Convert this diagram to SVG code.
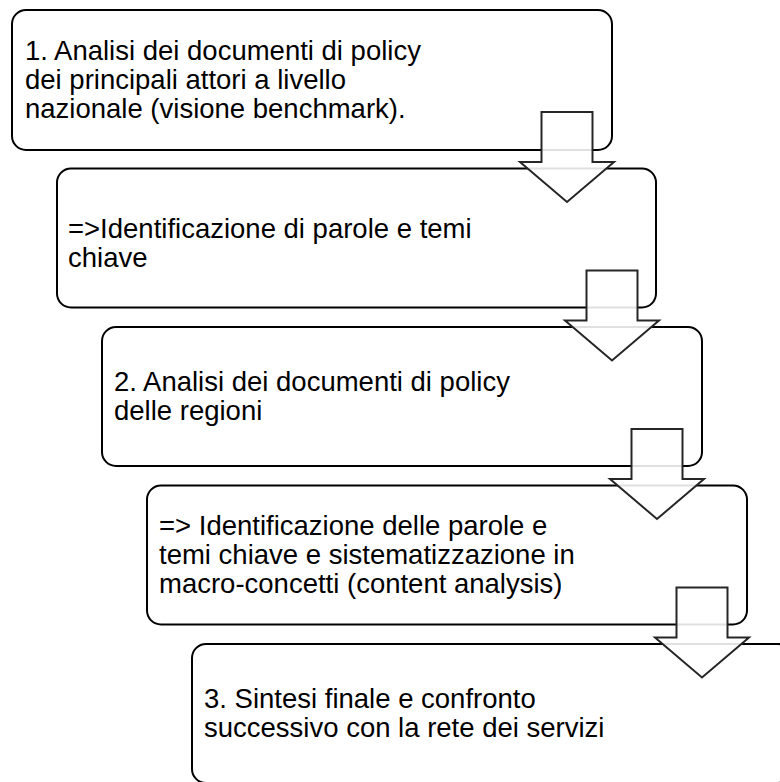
<svg xmlns="http://www.w3.org/2000/svg" width="780" height="782" viewBox="0 0 780 782">
<style>
.box{fill:#fff;stroke:#000;stroke-width:2}
.arr{fill:#fff;fill-opacity:0.88;stroke:#262626;stroke-width:2;stroke-linejoin:miter}
text{font-family:"Liberation Sans",Arial,sans-serif;font-size:27.5px;fill:#000}
</style>
<rect width="780" height="782" fill="#fff"/>
<g id="node1">
<rect class="box" x="12" y="10" width="600" height="140" rx="14"/>
<text x="25" y="60">1. Analisi dei documenti di policy</text>
<text x="25" y="89">dei principali attori a livello</text>
<text x="25" y="118">nazionale (visione benchmark).</text>
</g>
<g id="node2">
<rect class="box" x="57" y="168.5" width="599" height="139" rx="14"/>
<text x="68" y="238">=&gt;Identificazione di parole e temi</text>
<text x="68" y="266.5">chiave</text>
</g>
<g id="node3">
<rect class="box" x="102" y="327" width="600" height="139" rx="14"/>
<text x="114" y="391">2. Analisi dei documenti di policy</text>
<text x="114" y="420">delle regioni</text>
</g>
<g id="node4">
<rect class="box" x="147" y="485.5" width="600" height="139" rx="14"/>
<text x="159" y="534.5">=&gt; Identificazione delle parole e</text>
<text x="159" y="563.5">temi chiave e sistematizzazione in</text>
<text x="159" y="592.5">macro-concetti (content analysis)</text>
</g>
<g id="node5">
<rect class="box" x="192" y="644" width="600" height="139" rx="14"/>
<text x="204" y="708">3. Sintesi finale e confronto</text>
<text x="204" y="737">successivo con la rete dei servizi</text>
</g>
<g id="connectors">
<polygon class="arr" points="541.5,112 592.5,112 592.5,162 614,162 567,202 520,162 541.5,162"/>
<polygon class="arr" points="586.5,270.5 637.5,270.5 637.5,320.5 659,320.5 612,360.5 565,320.5 586.5,320.5"/>
<polygon class="arr" points="631.5,429 682.5,429 682.5,479 704,479 657,519 610,479 631.5,479"/>
<polygon class="arr" points="676.5,587.5 727.5,587.5 727.5,637.5 749,637.5 702,677.5 655,637.5 676.5,637.5"/>
</g>
</svg>
